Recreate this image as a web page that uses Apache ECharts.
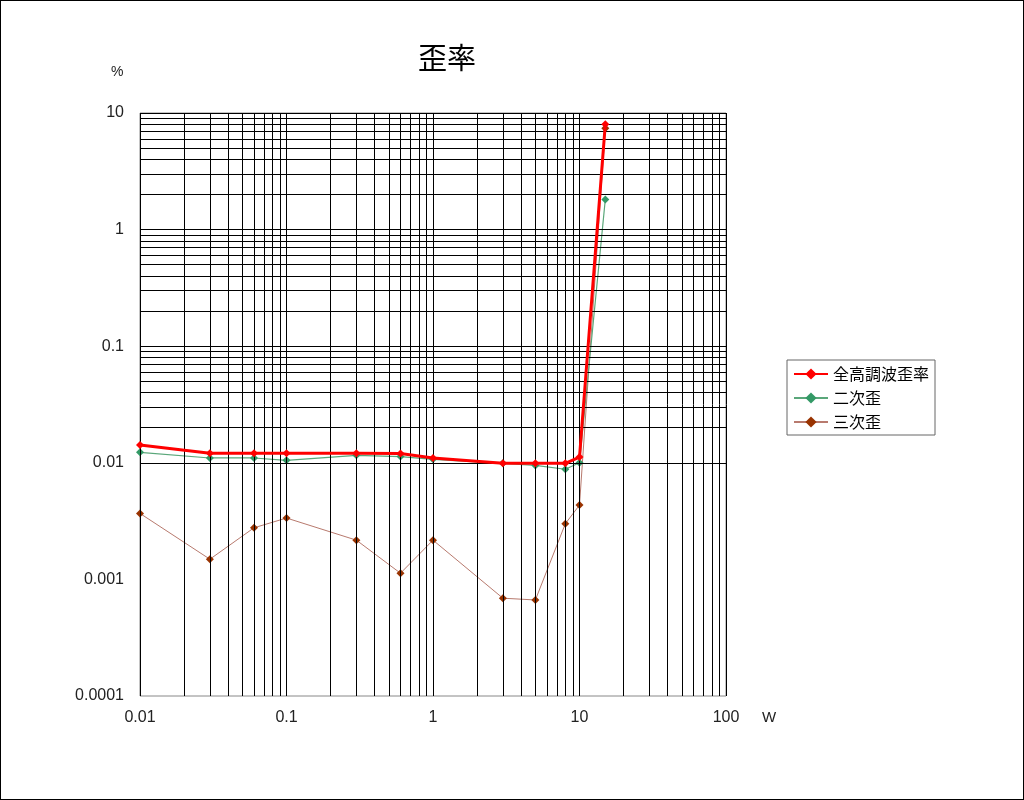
<!DOCTYPE html>
<html>
<head>
<meta charset="utf-8">
<script src="https://cdn.jsdelivr.net/npm/echarts@6/dist/echarts.min.js"></script>
<style>
  html, body { margin: 0; padding: 0; background: #fff; }
  #chart { width: 1024px; height: 800px; box-sizing: border-box; border: 1px solid #000; }
</style>
</head>
<body>
<div id="chart"></div>
<script>
// ---------- データ ----------
const powerW = [0.01, 0.03, 0.06, 0.1, 0.3, 0.6, 1, 3, 5, 8, 10, 15]
const thdTotal = [0.0142, 0.0121, 0.0121, 0.0121, 0.0121, 0.012, 0.011, 0.0099, 0.0099, 0.0099, 0.0112, 8.0]
const thd2nd = [0.0123, 0.011, 0.011, 0.0105, 0.0116, 0.0113, 0.0107, 0.0099, 0.0095, 0.0088, 0.0100, 1.81]
const thd3rd = [0.00368, 0.00149, 0.00277, 0.00336, 0.00217, 0.00113, 0.00217, 0.00069, 0.000666, 0.0030, 0.00434, 7.4]
const xTickLabels = ['0.01', '0.1', '1', '10', '100']
const yTickLabels = ['0.0001', '0.001', '0.01', '0.1', '1', '10']

// 対数グリッド線（各デカードの 1〜9）
const xGrid = []
for (let d = -2; d < 2; d++) for (let m = 1; m <= 9; m++) xGrid.push(m * Math.pow(10, d))
xGrid.push(100)
const yGrid = []
for (let d = -4; d < 1; d++) for (let m = 1; m <= 9; m++) yGrid.push(m * Math.pow(10, d))
yGrid.push(10)

const pairs = (ys) => powerW.map((x, i) => [x, ys[i]])
const labelFont = { fontFamily: 'Liberation Sans Narrow, Liberation Sans, Arial', fontSize: 16, color: '#222' }

const chart = echarts.init(document.getElementById('chart'))
chart.setOption({
  animation: false,
  backgroundColor: '#fff',
  title: {
    text: '歪率', left: 412, top: 37,
    textStyle: { fontFamily: 'Noto Sans CJK JP', fontSize: 29, fontWeight: 'normal', color: '#000' },
  },
  grid: { left: 139, top: 112, width: 586, height: 583, show: true, borderColor: '#888', borderWidth: 1, backgroundColor: '#fff' },
  legend: {
    orient: 'vertical', left: 786, top: 359,
    itemWidth: 34, itemHeight: 14, itemGap: 8,
    padding: [6, 6, 5, 6],
    borderColor: '#666', borderWidth: 1, backgroundColor: '#fff',
    textStyle: { fontFamily: 'Noto Sans CJK JP', fontSize: 16, color: '#000' },
    data: ['全高調波歪率', '二次歪', '三次歪'],
  },
  xAxis: {
    type: 'log', logBase: 10, min: 0.01, max: 100,
    axisLine: { show: false }, axisTick: { show: false }, splitLine: { show: false },
    axisLabel: { ...labelFont, margin: 14, formatter: (v) => xTickLabels[Math.round(Math.log10(v)) + 2] },
  },
  yAxis: {
    type: 'log', logBase: 10, min: 0.0001, max: 10,
    axisLine: { show: false }, axisTick: { show: false }, splitLine: { show: false },
    axisLabel: { ...labelFont, margin: 16, formatter: (v) => yTickLabels[Math.round(Math.log10(v)) + 4] },
  },
  graphic: [
    { type: 'text', left: 110, top: 64, style: { text: '%', font: '14px Liberation Sans', fill: '#222' } },
    { type: 'text', left: 761, top: 709, style: { text: 'W', font: '15px Liberation Sans Narrow, Liberation Sans', fill: '#222' } },
  ],
  series: [
    {
      name: 'grid', type: 'line', data: [], silent: true,
      markLine: {
        silent: true, symbol: 'none', label: { show: false },
        lineStyle: { color: '#000', width: 1, type: 'solid' },
        emphasis: { disabled: true },
        data: [...xGrid.map((v) => ({ xAxis: v })), ...yGrid.map((v) => ({ yAxis: v }))],
      },
    },
    {
      name: '三次歪', type: 'line', data: pairs(thd3rd), z: 3,
      symbol: 'diamond', symbolSize: 8,
      lineStyle: { color: '#b87a6e', width: 1 },
      itemStyle: { color: '#993300' },
    },
    {
      name: '二次歪', type: 'line', data: pairs(thd2nd), z: 4,
      symbol: 'diamond', symbolSize: 8,
      lineStyle: { color: '#5aa77a', width: 1.2 },
      itemStyle: { color: '#339966' },
    },
    {
      name: '全高調波歪率', type: 'line', data: pairs(thdTotal), z: 5,
      symbol: 'diamond', symbolSize: 8,
      lineStyle: { color: '#ff0000', width: 3 },
      itemStyle: { color: '#ff0000' },
    },
  ],
})
</script>
</body>
</html>
